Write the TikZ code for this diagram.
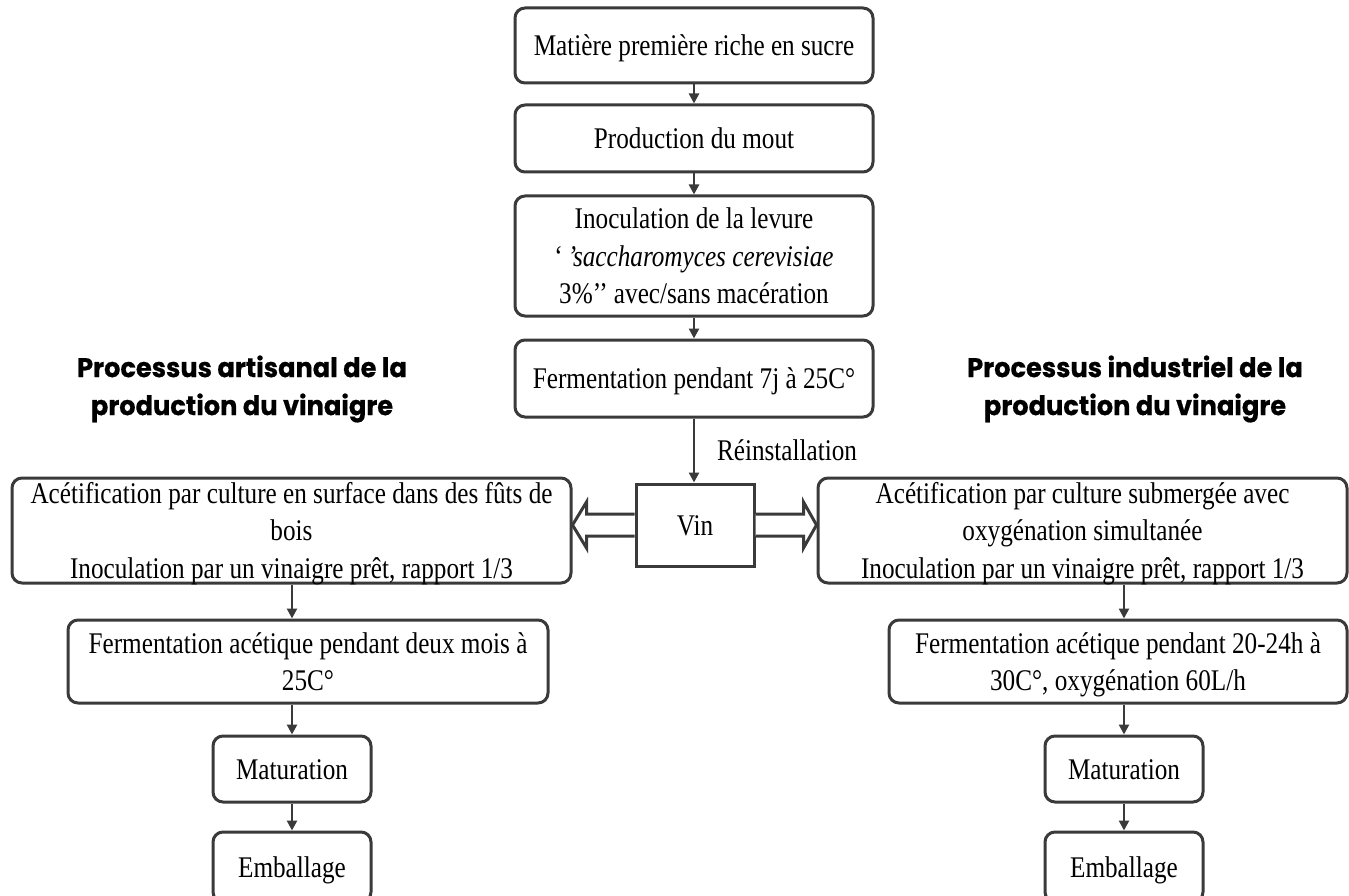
\documentclass[tikz,border=0pt]{standalone}
\usepackage{fontspec}
\setmainfont{Liberation Serif}[FakeStretch=0.84]
\newfontfamily\headfont{Poppins}[FakeStretch=0.95, BoldFeatures={FakeBold=0.6}]
\usetikzlibrary{arrows.meta,calc}
\definecolor{edge}{HTML}{3A3A3A}
% uniform line strut so every text block sits on the same grid
\newcommand\lstrut{\rule[-8.5pt]{0pt}{37.5pt}}
\begin{document}
\begin{tikzpicture}[x=1pt,y=-1pt,
  box/.style={draw=edge, line width=3pt, rounded corners=10pt, fill=white,
    inner xsep=0pt, inner ysep=-10pt, align=center, font=\fontsize{30}{37.5}\selectfont},
  plainbox/.style={draw=edge, line width=3pt, fill=white, inner xsep=0pt,
    inner ysep=-10pt, align=center, font=\fontsize{30}{37.5}\selectfont},
  flow/.style={draw=edge, line width=2.5pt, -{Triangle[length=10pt,width=10pt]}},
  fat/.style={draw=edge, line width=3pt, line join=miter, fill=white},
  heading/.style={align=center, font=\headfont\bfseries\fontsize{27}{38}\selectfont},
  label/.style={font=\fontsize{30}{37.5}\selectfont}]
\useasboundingbox (0,0) rectangle (1349,896);

% central trunk
\node[box, minimum width=358pt, minimum height=75pt] (b1) at (694,45.5) {\lstrut Matière première riche en sucre};
\node[box, minimum width=358pt, minimum height=67pt] (b2) at (694,138.5) {\lstrut Production du mout};
\node[box, minimum width=358pt, minimum height=120pt] (b3) at (694,256) {\lstrut Inoculation de la levure\\ \lstrut ‘\,\textit{’saccharomyces cerevisiae}\\ \lstrut 3\%’’ avec/sans macération};
\node[box, minimum width=358pt, minimum height=77pt] (b4) at (694,378.5) {\lstrut Fermentation pendant 7j à 25C°};
\node[plainbox, minimum width=118pt, minimum height=82pt] (vin) at (695,525) {\lstrut Vin};
\node[label] (reinst) at (787,450) {Réinstallation};

% headings
\node[heading] (hl) at (242,389) {Processus artisanal de la\\ production du vinaigre};
\node[heading] (hr) at (1135,389) {Processus industriel de la\\ production du vinaigre};

% artisanal branch
\node[box, minimum width=559pt, minimum height=105pt] (L1) at (291.5,530.5) {\lstrut Acétification par culture en surface dans des fûts de\\ \lstrut bois\\ \lstrut Inoculation par un vinaigre prêt, rapport 1/3};
\node[box, minimum width=480pt, minimum height=83pt] (L2) at (308,661.5) {\lstrut Fermentation acétique pendant deux mois à\\ \lstrut 25C°};
\node[box, minimum width=158pt, minimum height=66pt] (LM) at (292,769) {\lstrut Maturation};
\node[box, minimum width=158pt, minimum height=70pt] (LE) at (292,867) {\lstrut Emballage};

% industrial branch
\node[box, minimum width=529pt, minimum height=105pt] (R1) at (1082.5,530.5) {\lstrut Acétification par culture submergée avec\\ \lstrut oxygénation simultanée\\ \lstrut Inoculation par un vinaigre prêt, rapport 1/3};
\node[box, minimum width=458pt, minimum height=83pt] (R2) at (1118,661.5) {\lstrut Fermentation acétique pendant 20-24h à\\ \lstrut 30C°, oxygénation 60L/h};
\node[box, minimum width=158pt, minimum height=66pt] (RM) at (1124,769) {\lstrut Maturation};
\node[box, minimum width=158pt, minimum height=70pt] (RE) at (1124,867) {\lstrut Emballage};

% trunk arrows
\draw[flow] (b1.south) -- (b2.north);
\draw[flow] (b2.south) -- (b3.north);
\draw[flow] (b3.south) -- (b4.north);
\draw[flow] (b4.south) -- (b4.south |- vin.north);

% hollow arrows from the wine box
\draw[fat] ($(vin.west)+(0,-11)$) -- ++(-48,0) -- ++(0,-12)
  -- (L1.east |- vin.west) -- ($(vin.west)+(-48,23)$) -- ++(0,-12)
  -- ($(vin.west)+(0,11)$);
\draw[fat] ($(vin.east)+(0,-11)$) -- ++(48,0) -- ++(0,-12)
  -- (R1.west |- vin.east) -- ($(vin.east)+(48,23)$) -- ++(0,-12)
  -- ($(vin.east)+(0,11)$);

% artisanal arrows
\draw[flow] (LM.north |- L1.south) -- (LM.north |- L2.north);
\draw[flow] (LM.north |- L2.south) -- (LM.north);
\draw[flow] (LM.south) -- (LE.north);

% industrial arrows
\draw[flow] (RM.north |- R1.south) -- (RM.north |- R2.north);
\draw[flow] (RM.north |- R2.south) -- (RM.north);
\draw[flow] (RM.south) -- (RE.north);
\end{tikzpicture}
\end{document}
